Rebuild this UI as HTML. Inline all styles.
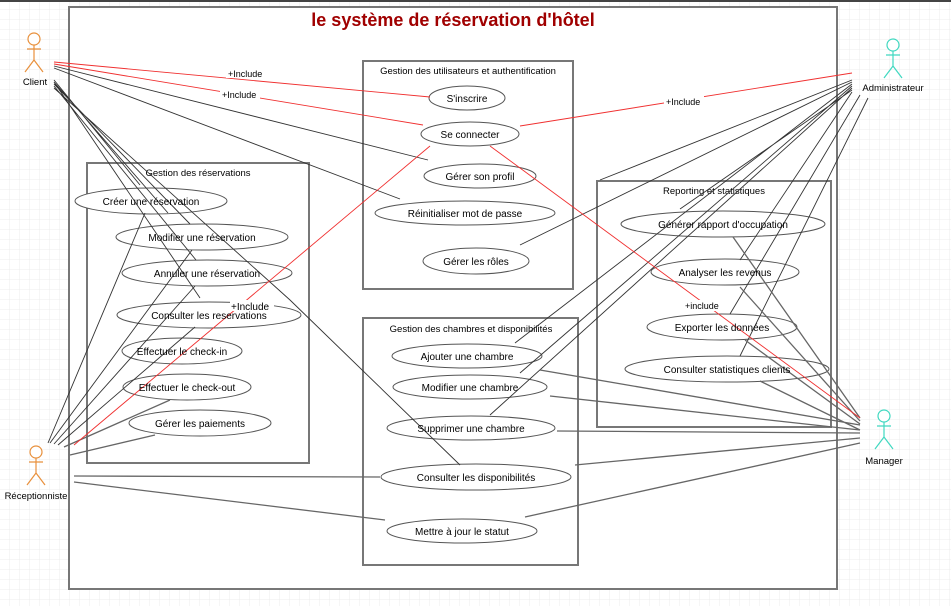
<!DOCTYPE html>
<html><head><meta charset="utf-8"><style>
html,body{margin:0;padding:0;width:951px;height:606px;overflow:hidden;background:#fff}
svg{display:block;font-family:"Liberation Sans",Arial,sans-serif}
</style></head><body>
<svg width="951" height="606" viewBox="0 0 951 606">
<defs>
<pattern id="g" width="10" height="10" patternUnits="userSpaceOnUse"><path d="M10 0V10H0" fill="none" stroke="#ececec" stroke-width="1"/></pattern>
</defs>
<rect width="951" height="606" fill="url(#g)"/>
<rect x="0" y="0" width="951" height="2" fill="#444"/>
<rect x="69" y="7" width="768" height="582" fill="#fff" stroke="#777" stroke-width="2"/>
<text x="453" y="26" text-anchor="middle" font-size="18" font-weight="bold" fill="#a00000">le système de réservation d'hôtel</text>

<g fill="none" stroke="#777" stroke-width="2">
<rect x="363" y="61" width="210" height="228"/>
<rect x="87" y="163" width="222" height="300"/>
<rect x="363" y="318" width="215" height="247"/>
<rect x="597" y="181" width="234" height="246"/>
</g>
<g font-size="9.5" fill="#000" text-anchor="middle">
<text x="468" y="74">Gestion des utilisateurs et authentification</text>
<text x="198" y="176">Gestion des réservations</text>
<text x="471" y="332">Gestion des chambres et disponibilités</text>
<text x="714" y="194">Reporting et statistiques</text>
</g>

<!-- ellipses -->
<g fill="#fff" stroke="#555" stroke-width="1">
<ellipse cx="467" cy="98" rx="38" ry="12"/>
<ellipse cx="470" cy="134" rx="49" ry="12"/>
<ellipse cx="480" cy="176" rx="56" ry="12"/>
<ellipse cx="465" cy="213" rx="90" ry="12"/>
<ellipse cx="476" cy="261" rx="53" ry="13"/>
<ellipse cx="151" cy="201" rx="76" ry="13"/>
<ellipse cx="202" cy="237" rx="86" ry="13"/>
<ellipse cx="207" cy="273" rx="85" ry="13"/>
<ellipse cx="209" cy="315" rx="92" ry="13"/>
<ellipse cx="182" cy="351" rx="60" ry="13"/>
<ellipse cx="187" cy="387" rx="64" ry="13"/>
<ellipse cx="200" cy="423" rx="71" ry="13"/>
<ellipse cx="723" cy="224" rx="102" ry="13"/>
<ellipse cx="725" cy="272" rx="74" ry="13"/>
<ellipse cx="722" cy="327" rx="75" ry="13"/>
<ellipse cx="727" cy="369" rx="102" ry="13"/>
<ellipse cx="467" cy="356" rx="75" ry="12"/>
<ellipse cx="470" cy="387" rx="77" ry="12"/>
<ellipse cx="471" cy="428" rx="84" ry="12"/>
<ellipse cx="476" cy="477" rx="95" ry="13"/>
<ellipse cx="462" cy="531" rx="75" ry="12"/>
</g>

<!-- black lines -->
<g stroke="#333" stroke-width="0.9" fill="none">
<path d="M54 66L428 160M54 68L400 199"/>
<path d="M54 80L140 185M54 82L200 298M54 84L190 224M54 86L196 260M54 88L290 300L460 465M54 82L168 213"/>
<path d="M48 443L145 213M50 443L192 250M54 444L195 286M58 445L195 327"/>
<path d="M852 82L520 245M852 84L515 343M852 86L520 373M852 88L490 415M852 90L680 209M852 92L740 260M860 95L730 314M868 98L740 356M852 80L600 180"/>
</g>
<g stroke="#666" stroke-width="1.3" fill="none">
<path d="M64 447L170 400M70 455L155 435M74 476L380 477M74 482L385 520"/>
<path d="M860 418L733 237M860 421L740 287M860 424L745 340M860 430L760 381M860 425L540 370M860 430L550 396M860 433L557 431M860 438L575 465M860 443L525 517"/>
</g>
<!-- red lines -->
<g stroke="#f03030" stroke-width="0.9" fill="none">
<path d="M54 62L430 97M54 64L423 125M852 73L520 126M490 146L860 418M74 445L430 146"/>
</g>
<g font-size="9" fill="#000">
<rect x="226" y="67" width="40" height="11" fill="#fff"/><text x="228" y="77">+Include</text>
<rect x="220" y="89" width="40" height="11" fill="#fff"/><text x="222" y="98">+Include</text>
<rect x="664" y="95" width="40" height="11" fill="#fff"/><text x="666" y="105">+Include</text>
<rect x="230" y="300" width="44" height="11" fill="#fff"/><text x="231" y="310" font-size="10">+Include</text>
<rect x="683" y="300" width="40" height="11" fill="#fff"/><text x="685" y="309">+include</text>
</g>

<!-- ellipse labels -->
<g font-size="10" fill="#000" text-anchor="middle">
<text x="467" y="102">S'inscrire</text>
<text x="470" y="138">Se connecter</text>
<text x="480" y="180">Gérer son profil</text>
<text x="465" y="217">Réinitialiser mot de passe</text>
<text x="476" y="265">Gérer les rôles</text>
<text x="151" y="205">Créer une réservation</text>
<text x="202" y="241">Modifier une réservation</text>
<text x="207" y="277">Annuler une réservation</text>
<text x="209" y="319">Consulter les reservations</text>
<text x="182" y="355">Effectuer le check-in</text>
<text x="187" y="391">Effectuer le check-out</text>
<text x="200" y="427">Gérer les paiements</text>
<text x="723" y="228">Générer rapport d'occupation</text>
<text x="725" y="276">Analyser les revenus</text>
<text x="722" y="331">Exporter les données</text>
<text x="727" y="373">Consulter statistiques clients</text>
<text x="467" y="360">Ajouter une chambre</text>
<text x="470" y="391">Modifier une chambre</text>
<text x="471" y="432">Supprimer une chambre</text>
<text x="476" y="481">Consulter les disponibilités</text>
<text x="462" y="535">Mettre à jour le statut</text>
</g>

<!-- actors -->
<g fill="#fff" stroke-width="1.2">
<g stroke="#e8903c"><circle cx="34" cy="39" r="6"/><path d="M34 45V60M27 49H41M34 60L25 72M34 60L43 72" fill="none"/></g>
<g stroke="#e8903c"><circle cx="36" cy="452" r="6"/><path d="M36 458V473M29 462H43M36 473L27 485M36 473L45 485" fill="none"/></g>
<g stroke="#40d8c0"><circle cx="893" cy="45" r="6"/><path d="M893 51V66M886 55H900M893 66L884 78M893 66L902 78" fill="none"/></g>
<g stroke="#40d8c0"><circle cx="884" cy="416" r="6"/><path d="M884 422V437M877 426H891M884 437L875 449M884 437L893 449" fill="none"/></g>
</g>
<g font-size="9.5" fill="#000" text-anchor="middle">
<text x="35" y="85">Client</text>
<text x="36" y="499">Réceptionniste</text>
<text x="893" y="91">Administrateur</text>
<text x="884" y="464">Manager</text>
</g>
</svg>
</body></html>
